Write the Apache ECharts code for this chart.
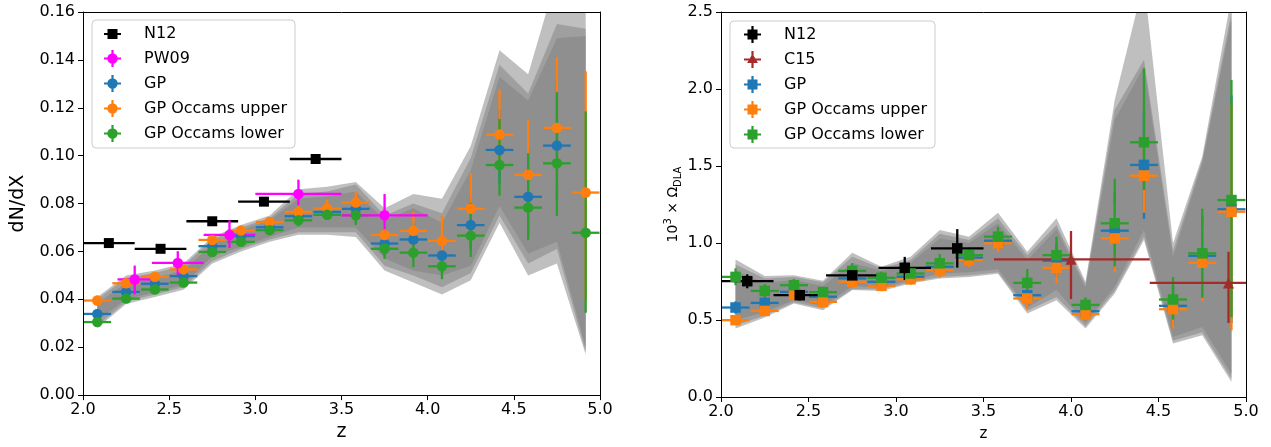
<!DOCTYPE html>
<html><head><meta charset="utf-8">
<script src="https://cdn.jsdelivr.net/npm/echarts@6/dist/echarts.min.js"></script>
<style>html,body{margin:0;padding:0;background:#fff}#c{width:1271px;height:447px}</style>
</head><body><div id="c"></div>
<script>
// ---------- DATA ----------
const zBins = [2.083,2.25,2.417,2.583,2.75,2.917,3.083,3.25,3.417,3.583,3.75,3.917,4.083,4.25,4.417,4.583,4.75,4.917];
const binHalfWidth = 0.08;

// Left panel: dN/dX
const dndxGP    = [0.0339,0.0431,0.0465,0.0497,0.0622,0.0664,0.0701,0.0747,0.0765,0.0778,0.0633,0.0650,0.0583,0.0710,0.1024,0.0828,0.1042,null];
const dndxGPHi  = [0.0015,0.0015,0.0015,0.0015,0.002,0.002,0.002,0.0025,0.003,0.004,0.005,0.007,0.008,0.012,0.017,0.020,0.027,null];
const dndxGPLo  = [0.0015,0.0015,0.0015,0.0015,0.002,0.002,0.002,0.0025,0.003,0.004,0.005,0.007,0.007,0.010,0.014,0.016,0.023,null];
const dndxUp    = [0.0395,0.0467,0.0494,0.0525,0.0648,0.0687,0.0723,0.0765,0.0779,0.0804,0.0669,0.0686,0.0644,0.0778,0.1088,0.0920,0.1116,0.0846];
const dndxUpHi  = [0.002,0.002,0.002,0.002,0.002,0.002,0.002,0.003,0.0038,0.0047,0.0056,0.008,0.0104,0.015,0.019,0.023,0.0296,0.0506];
const dndxUpLo  = [0.002,0.002,0.002,0.002,0.002,0.002,0.002,0.003,0.003,0.004,0.005,0.007,0.009,0.012,0.015,0.018,0.024,0.045];
const dndxLow   = [0.0305,0.0403,0.0441,0.0470,0.0598,0.0640,0.0689,0.0730,0.0753,0.0751,0.0611,0.0595,0.0538,0.0666,0.0961,0.0783,0.0968,0.0678];
const dndxLowHi = [0.0015,0.0015,0.0015,0.0015,0.002,0.002,0.002,0.0025,0.003,0.004,0.005,0.006,0.0055,0.0137,0.0192,0.0227,0.0297,0.0507];
const dndxLowLo = [0.0015,0.0015,0.0015,0.0015,0.002,0.002,0.002,0.0025,0.002,0.004,0.0042,0.006,0.0054,0.0089,0.0128,0.0136,0.0220,0.0334];

const dndxBandOuterLo = [0.028,0.038,0.041,0.044,0.055,0.060,0.064,0.067,0.067,0.066,0.052,0.047,0.042,0.048,0.072,0.050,0.055,0.017];
const dndxBandOuterHi = [0.041,0.050,0.052,0.055,0.066,0.071,0.075,0.086,0.087,0.089,0.078,0.084,0.082,0.104,0.144,0.134,0.175,0.165];
const dndxBandMidLo   = [0.029,0.039,0.042,0.045,0.056,0.061,0.065,0.068,0.068,0.068,0.054,0.050,0.045,0.051,0.075,0.055,0.061,0.018];
const dndxBandMidHi   = [0.040,0.049,0.051,0.054,0.065,0.070,0.074,0.084,0.085,0.088,0.075,0.080,0.076,0.099,0.138,0.126,0.155,0.153];
const dndxBandInLo    = [0.031,0.040,0.043,0.046,0.058,0.062,0.066,0.070,0.070,0.070,0.057,0.052,0.050,0.054,0.079,0.059,0.064,0.020];
const dndxBandInHi    = [0.038,0.047,0.049,0.052,0.063,0.069,0.073,0.082,0.083,0.085,0.073,0.078,0.072,0.094,0.133,0.123,0.149,0.150];

const n12Z      = [2.15,2.45,2.75,3.05,3.35];
const n12XLo    = [2.0,2.3,2.6,2.9,3.2];
const n12XHi    = [2.3,2.6,2.9,3.2,3.5];
const n12Dndx   = [0.0635,0.0611,0.0726,0.0808,0.0986];
const n12DndxErr= [0.0008,0.0008,0.0009,0.0010,0.0012];

const pw09Z     = [2.3,2.55,2.85,3.25,3.75];
const pw09XLo   = [2.2,2.4,2.7,3.0,3.5];
const pw09XHi   = [2.4,2.7,3.0,3.5,4.0];
const pw09Dndx  = [0.0483,0.0552,0.0669,0.0840,0.0751];
const pw09Hi    = [0.0058,0.0049,0.0061,0.0060,0.0089];
const pw09Lo    = [0.0063,0.0051,0.0054,0.0048,0.0059];

// Right panel: 10^3 x Omega_DLA
const omGP      = [0.581,0.611,0.683,0.651,0.770,0.748,0.781,0.846,0.905,1.015,0.661,0.885,0.557,1.080,1.507,0.592,0.917,1.219];
const omGPErr   = [0.040,0.035,0.035,0.030,0.045,0.035,0.035,0.050,0.045,0.060,0.075,0.110,0.045,0.250,0.350,0.130,0.260,0.740];
const omUp      = [0.499,0.559,0.663,0.618,0.748,0.722,0.764,0.824,0.889,0.998,0.640,0.839,0.538,1.030,1.437,0.570,0.872,1.203];
const omUpHi    = [0.030,0.030,0.030,0.030,0.040,0.035,0.035,0.050,0.045,0.055,0.070,0.100,0.040,0.220,0.260,0.120,0.240,0.700];
const omUpLo    = [0.030,0.030,0.030,0.030,0.040,0.035,0.035,0.050,0.045,0.055,0.070,0.100,0.040,0.220,0.240,0.125,0.250,0.770];
const omLow     = [0.780,0.689,0.726,0.681,0.819,0.774,0.802,0.868,0.921,1.041,0.741,0.921,0.598,1.128,1.654,0.633,0.933,1.279];
const omLowHi   = [0.055,0.045,0.040,0.035,0.050,0.040,0.040,0.060,0.050,0.064,0.090,0.120,0.050,0.290,0.480,0.146,0.290,0.780];
const omLowLo   = [0.054,0.045,0.040,0.035,0.045,0.040,0.040,0.050,0.050,0.060,0.080,0.110,0.045,0.280,0.310,0.130,0.290,0.760];

const omBandOuterLo = [0.445,0.516,0.607,0.564,0.694,0.689,0.737,0.770,0.780,0.800,0.542,0.629,0.445,0.672,1.019,0.347,0.401,0.098];
const omBandOuterHi = [0.893,0.785,0.791,0.755,0.937,0.846,0.910,1.084,1.040,1.197,0.943,1.160,0.748,1.930,2.700,0.998,1.561,2.600];
const omBandMidLo   = [0.465,0.530,0.615,0.575,0.700,0.700,0.745,0.780,0.790,0.810,0.560,0.650,0.460,0.690,1.040,0.365,0.420,0.120];
const omBandMidHi   = [0.860,0.770,0.780,0.745,0.910,0.835,0.890,1.060,1.020,1.160,0.920,1.117,0.730,1.865,2.190,0.950,1.540,2.500];
const omBandInLo    = [0.500,0.550,0.630,0.590,0.720,0.710,0.760,0.800,0.810,0.830,0.580,0.694,0.480,0.716,1.084,0.390,0.455,0.152];
const omBandInHi    = [0.820,0.740,0.760,0.720,0.870,0.820,0.870,1.030,1.000,1.128,0.889,1.090,0.710,1.800,2.146,0.910,1.518,2.450];

const n12Omega   = [0.752,0.661,0.790,0.839,0.965];
const n12OmegaHi = [0.045,0.035,0.050,0.071,0.125];
const n12OmegaLo = [0.046,0.035,0.050,0.079,0.125];

const c15Z     = [4.0,4.9];
const c15XLo   = [3.56,4.45];
const c15XHi   = [4.45,5.35];
const c15Omega = [0.894,0.741];
const c15Hi    = [0.184,0.202];
const c15Lo    = [0.258,0.260];

const xTicks = [2.0,2.5,3.0,3.5,4.0,4.5,5.0];

// ---------- BUILD ----------
const FONT = 'DejaVu Sans';
const C = {blue:'#1f77b4', orange:'#ff7f0e', green:'#2ca02c', magenta:'#ff00ff', black:'#000000', brown:'#a52a2a'};
const LW = 2.3;

function errData(z, xlo, xhi, y, ylo, yhi){
  const out=[];
  for(let i=0;i<z.length;i++){ if(y[i]==null) continue; out.push([z[i], y[i], xlo[i], xhi[i], y[i]-ylo[i], y[i]+yhi[i]]); }
  return out;
}
function binErr(y, lo, hi){
  return errData(zBins, zBins.map(z=>z-binHalfWidth), zBins.map(z=>z+binHalfWidth), y, lo, hi);
}
function errSeries(name, color, data, idx){
  return {type:'custom', name:'_'+name, xAxisIndex:idx, yAxisIndex:idx, z:3, clip:true, silent:true,
    itemStyle:{color}, data,
    renderItem:function(params, api){
      const c=api.coord([api.value(0),api.value(1)]);
      const xl=api.coord([api.value(2),api.value(1)]), xh=api.coord([api.value(3),api.value(1)]);
      const yl=api.coord([api.value(0),api.value(4)]), yh=api.coord([api.value(0),api.value(5)]);
      const st={stroke:color, lineWidth:LW};
      return {type:'group', children:[
        {type:'line', shape:{x1:xl[0],y1:c[1],x2:xh[0],y2:c[1]}, style:st},
        {type:'line', shape:{x1:c[0],y1:yl[1],x2:c[0],y2:yh[1]}, style:st}
      ]};
    }};
}
function markSeries(name, color, data, idx, symbol, size){
  return {type:'scatter', name, xAxisIndex:idx, yAxisIndex:idx, z:4, symbol, symbolSize:size,
    itemStyle:{color, opacity:1}, data:data.map(d=>[d[0],d[1]]), silent:true};
}
function bandSeries(lo, hi, idx){
  return {type:'custom', name:'_band', xAxisIndex:idx, yAxisIndex:idx, z:1, clip:true, silent:true,
    data: zBins.map((z,i)=>[z, lo[i], hi[i]]),
    renderItem:function(params, api){
      if(params.dataIndex!==0) return null;
      const pts=[];
      for(let i=0;i<zBins.length;i++) pts.push(api.coord([zBins[i], hi[i]]));
      for(let i=zBins.length-1;i>=0;i--) pts.push(api.coord([zBins[i], lo[i]]));
      return {type:'polygon', shape:{points:pts}, style:{fill:'rgba(128,128,128,0.5)'}};
    }};
}

const series=[];
series.push(bandSeries(dndxBandOuterLo,dndxBandOuterHi,0), bandSeries(dndxBandMidLo,dndxBandMidHi,0), bandSeries(dndxBandInLo,dndxBandInHi,0));
series.push(bandSeries(omBandOuterLo,omBandOuterHi,1), bandSeries(omBandMidLo,omBandMidHi,1), bandSeries(omBandInLo,omBandInHi,1));

const L_gp = binErr(dndxGP, dndxGPLo, dndxGPHi);
const L_up = binErr(dndxUp, dndxUpLo, dndxUpHi);
const L_lo = binErr(dndxLow, dndxLowLo, dndxLowHi);
const L_n12 = errData(n12Z, n12XLo, n12XHi, n12Dndx, n12DndxErr, n12DndxErr);
const L_pw = errData(pw09Z, pw09XLo, pw09XHi, pw09Dndx, pw09Lo, pw09Hi);
series.push(errSeries('GP',C.blue,L_gp,0), errSeries('GP Occams upper',C.orange,L_up,0), errSeries('GP Occams lower',C.green,L_lo,0),
            errSeries('N12',C.black,L_n12,0), errSeries('PW09',C.magenta,L_pw,0));
series.push(markSeries('GP',C.blue,L_gp,0,'circle',10.5), markSeries('GP Occams upper',C.orange,L_up,0,'circle',10.5),
            markSeries('GP Occams lower',C.green,L_lo,0,'circle',10.5), markSeries('N12',C.black,L_n12,0,'rect',10),
            markSeries('PW09',C.magenta,L_pw,0,'circle',10.5));

const R_gp = binErr(omGP, omGPErr, omGPErr);
const R_up = binErr(omUp, omUpLo, omUpHi);
const R_lo = binErr(omLow, omLowLo, omLowHi);
const R_n12 = errData(n12Z, n12XLo, n12XHi, n12Omega, n12OmegaLo, n12OmegaHi);
const R_c15 = errData(c15Z, c15XLo, c15XHi, c15Omega, c15Lo, c15Hi);
series.push(errSeries('GP',C.blue,R_gp,1), errSeries('GP Occams upper',C.orange,R_up,1), errSeries('GP Occams lower',C.green,R_lo,1),
            errSeries('N12',C.black,R_n12,1), errSeries('C15',C.brown,R_c15,1));
series.push(markSeries('GP',C.blue,R_gp,1,'rect',10.5), markSeries('GP Occams upper',C.orange,R_up,1,'rect',10.5),
            markSeries('GP Occams lower',C.green,R_lo,1,'rect',10.5), markSeries('N12',C.black,R_n12,1,'rect',10.5),
            markSeries('C15',C.brown,R_c15,1,'triangle',11));

const CROSS = 'M-8.5,-1.1L8.5,-1.1L8.5,1.1L-8.5,1.1Z M-1.1,-8.5L1.1,-8.5L1.1,8.5L-1.1,8.5Z ';
const CIRC = 'M0,-5.2A5.2,5.2 0 1 1 0,5.2A5.2,5.2 0 1 1 0,-5.2Z';
const SQ = 'M-5,-5L5,-5L5,5L-5,5Z';
const TRI = 'M0,-5.8L5.4,3.6L-5.4,3.6Z';
const icoCross = s => 'path://' + CROSS + s;
const icoN12L = 'path://M-8.5,-1.1L8.5,-1.1L8.5,1.1L-8.5,1.1Z ' + SQ;

const legendBase = {orient:'vertical', itemWidth:17, itemHeight:17, itemGap:8,
  backgroundColor:'rgba(255,255,255,0.8)', borderColor:'#cccccc', borderWidth:1, borderRadius:4,
  textStyle:{fontFamily:FONT, fontSize:16, color:'#000', padding:[0,0,0,18]}, selectedMode:false};

function xAx(idx, nameSize, gap){
  return {type:'value', gridIndex:idx, min:2, max:5, interval:0.5, position:'bottom', z:10,
    name:'z', nameLocation:'middle', nameGap:gap, nameTextStyle:{fontFamily:FONT, fontSize:nameSize, color:'#000'},
    axisLine:{show:true, onZero:false, lineStyle:{color:'#000', width:1}},
    axisTick:{show:true, length:5, lineStyle:{color:'#000'}}, splitLine:{show:false},
    axisLabel:{fontFamily:FONT, fontSize:16, color:'#000', margin:7, formatter:v=>xTicks.includes(v)?v.toFixed(1):''}};
}
function xTop(idx){
  return {type:'value', gridIndex:idx, min:2, max:5, position:'top', z:10,
    axisLine:{show:true, onZero:false, lineStyle:{color:'#000', width:1}}, axisTick:{show:false},
    axisLabel:{show:false}, splitLine:{show:false}};
}
function yRight(idx, max){
  return {type:'value', gridIndex:idx, min:0, max, position:'right', z:10,
    axisLine:{show:true, onZero:false, lineStyle:{color:'#000', width:1}}, axisTick:{show:false},
    axisLabel:{show:false}, splitLine:{show:false}};
}

const option = {
  animation:false, backgroundColor:'#fff',
  grid:[{left:83, top:12, width:517, height:384}, {left:721, top:12, width:525, height:385}],
  xAxis:[xAx(0,19,26), xAx(1,15,30), xTop(0), xTop(1)],
  yAxis:[
    {type:'value', gridIndex:0, min:0, max:0.16, interval:0.02, z:10,
     name:'dN/dX', nameLocation:'middle', nameGap:55, nameTextStyle:{fontFamily:FONT, fontSize:19, color:'#000'},
     axisLine:{show:true, onZero:false, lineStyle:{color:'#000'}}, axisTick:{show:true, length:5, lineStyle:{color:'#000'}},
     splitLine:{show:false}, axisLabel:{fontFamily:FONT, fontSize:16, color:'#000', margin:8, formatter:v=>v.toFixed(2)}},
    {type:'value', gridIndex:1, min:0, max:2.5, interval:0.5, z:10,
     name:'{b|10}{sup|3}{b| × Ω}{sub|DLA}', nameLocation:'middle', nameGap:27,
     nameTextStyle:{fontFamily:FONT, fontSize:14, color:'#000',
       rich:{b:{fontFamily:FONT, fontSize:14, color:'#000', lineHeight:20},
             sup:{fontFamily:FONT, fontSize:10, color:'#000', lineHeight:10, verticalAlign:'top'},
             sub:{fontFamily:FONT, fontSize:10, color:'#000', lineHeight:10, verticalAlign:'bottom'}}},
     axisLine:{show:true, onZero:false, lineStyle:{color:'#000'}}, axisTick:{show:true, length:5, lineStyle:{color:'#000'}},
     splitLine:{show:false}, axisLabel:{fontFamily:FONT, fontSize:16, color:'#000', margin:8, formatter:v=>v.toFixed(1)}},
    yRight(0,0.16), yRight(1,2.5)
  ],
  legend:[
    Object.assign({}, legendBase, {left:92, top:20, padding:[6,8,6,12],
      data:[{name:'N12', icon:icoN12L},{name:'PW09', icon:icoCross(CIRC)},{name:'GP', icon:icoCross(CIRC)},
            {name:'GP Occams upper', icon:icoCross(CIRC)},{name:'GP Occams lower', icon:icoCross(CIRC)}]}),
    Object.assign({}, legendBase, {left:730, top:21, padding:[5,8,5,14],
      data:[{name:'N12', icon:icoCross(SQ)},{name:'C15', icon:icoCross(TRI)},{name:'GP', icon:icoCross(SQ)},
            {name:'GP Occams upper', icon:icoCross(SQ)},{name:'GP Occams lower', icon:icoCross(SQ)}]})
  ],
  series
};
const chart = echarts.init(document.getElementById('c'), null, {renderer:'canvas'});
chart.setOption(option);
</script></body></html>
